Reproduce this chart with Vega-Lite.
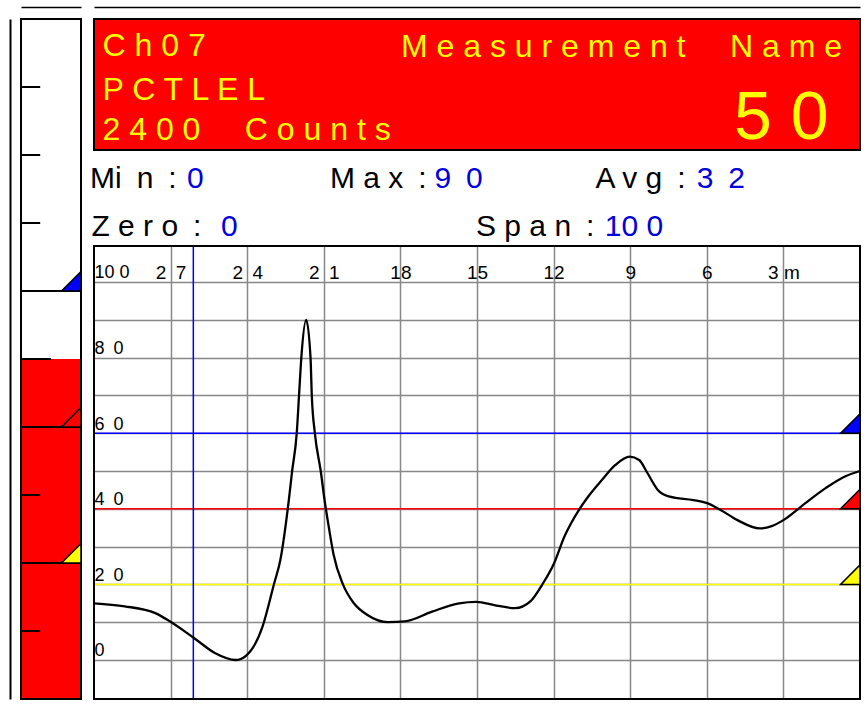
{
  "$schema": "https://vega.github.io/schema/vega-lite/v6.json",
  "background": "white",
  "padding": {"left": 10, "top": 6, "right": 0, "bottom": 0},
  "config": {"font": "Liberation Sans", "view": {"stroke": null}},
  "datasets": {
    "curve": [
      {"min": 30, "value": 15.0}, {"min": 28.8, "value": 14.2}, {"min": 27.6, "value": 12.4},
      {"min": 27.05, "value": 10.3}, {"min": 26.1, "value": 5.9}, {"min": 25.25, "value": 1.8},
      {"min": 24.45, "value": 0}, {"min": 24.05, "value": 1.1}, {"min": 23.4, "value": 8.8},
      {"min": 22.95, "value": 20.1}, {"min": 22.7, "value": 26.5}, {"min": 22.37, "value": 42.3},
      {"min": 22.24, "value": 50}, {"min": 22.06, "value": 60}, {"min": 21.97, "value": 70},
      {"min": 21.88, "value": 80}, {"min": 21.69, "value": 90}, {"min": 21.52, "value": 80},
      {"min": 21.47, "value": 70}, {"min": 21.35, "value": 60}, {"min": 21.12, "value": 50},
      {"min": 20.97, "value": 42.3}, {"min": 20.8, "value": 35}, {"min": 20.62, "value": 28},
      {"min": 20.25, "value": 20}, {"min": 19.82, "value": 15.0}, {"min": 19.29, "value": 11.9},
      {"min": 18.49, "value": 10.0}, {"min": 17.83, "value": 10.2}, {"min": 16.76, "value": 12.8},
      {"min": 15.7, "value": 15.0}, {"min": 15.03, "value": 15.4}, {"min": 14.24, "value": 14.4},
      {"min": 13.51, "value": 13.7}, {"min": 12.91, "value": 15.5}, {"min": 12.44, "value": 20},
      {"min": 11.98, "value": 25.6}, {"min": 11.58, "value": 32.6}, {"min": 10.98, "value": 40},
      {"min": 10.65, "value": 43.2}, {"min": 10.11, "value": 47.6}, {"min": 9.58, "value": 51.6},
      {"min": 9.02, "value": 53.8}, {"min": 8.65, "value": 52.9}, {"min": 8.32, "value": 49.4},
      {"min": 7.92, "value": 45.0}, {"min": 7.45, "value": 43.2}, {"min": 6.52, "value": 42.3},
      {"min": 5.99, "value": 41.5}, {"min": 5.46, "value": 39.7}, {"min": 4.8, "value": 37.0},
      {"min": 3.93, "value": 34.8}, {"min": 3.46, "value": 35.4}, {"min": 3.0, "value": 37.0},
      {"min": 2.14, "value": 41.5}, {"min": 1.36, "value": 45.4}, {"min": 0.67, "value": 48.3},
      {"min": 0, "value": 50}
    ],
    "alarms": [
      {"alarm": "Alarm 1", "level": 20},
      {"alarm": "Alarm 2", "level": 40},
      {"alarm": "Alarm 3", "level": 60}
    ],
    "current": [{"value": 50}],
    "gaugeTicks": [{"tick": 10}, {"tick": 30}, {"tick": 70}, {"tick": 80}, {"tick": 90}],
    "one": [{"frame": 1}]
  },
  "spacing": 13,
  "bounds": "flush",
  "hconcat": [
    {
      "width": 60,
      "height": 680,
      "view": {"fill": "white", "stroke": null},
      "layer": [
        {
          "data": {"name": "current"},
          "mark": {"type": "rect", "color": "#ff0000"},
          "encoding": {
            "x": {"datum": 0, "type": "quantitative", "scale": {"domain": [0, 1]},
                  "axis": {"orient": "top", "offset": 12, "domain": true, "domainColor": "black", "domainWidth": 1.5, "labels": false, "ticks": false, "grid": false, "title": null}},
            "x2": {"datum": 1},
            "y": {"field": "value", "type": "quantitative", "scale": {"domain": [0, 100]},
                  "axis": {"orient": "left", "offset": 11, "domain": true, "domainColor": "black", "domainWidth": 2, "labels": false, "ticks": false, "grid": false, "title": null}},
            "y2": {"datum": 0}
          }
        },
        {
          "data": {"name": "gaugeTicks"},
          "mark": {"type": "rule", "color": "black", "strokeWidth": 2},
          "encoding": {
            "x": {"datum": 0, "type": "quantitative", "scale": {"domain": [0, 1]},
                  "axis": {"orient": "top", "offset": 12, "domain": true, "domainColor": "black", "domainWidth": 1.5, "labels": false, "ticks": false, "grid": false, "title": null}},
            "x2": {"datum": 0.32},
            "y": {"field": "tick", "type": "quantitative", "scale": {"domain": [0, 100]},
                  "axis": {"orient": "left", "offset": 11, "domain": true, "domainColor": "black", "domainWidth": 2, "labels": false, "ticks": false, "grid": false, "title": null}}
          }
        },
        {
          "data": {"name": "current"},
          "mark": {"type": "rule", "color": "black", "strokeWidth": 2},
          "encoding": {
            "x": {"datum": 0, "type": "quantitative", "scale": {"domain": [0, 1]},
                  "axis": {"orient": "top", "offset": 12, "domain": true, "domainColor": "black", "domainWidth": 1.5, "labels": false, "ticks": false, "grid": false, "title": null}},
            "x2": {"datum": 0.5},
            "y": {"field": "value", "type": "quantitative", "scale": {"domain": [0, 100]},
                  "axis": {"orient": "left", "offset": 11, "domain": true, "domainColor": "black", "domainWidth": 2, "labels": false, "ticks": false, "grid": false, "title": null}}
          }
        },
        {
          "data": {"name": "alarms"},
          "mark": {"type": "rule", "color": "black", "strokeWidth": 2},
          "encoding": {
            "x": {"datum": 0, "type": "quantitative", "scale": {"domain": [0, 1]},
                  "axis": {"orient": "top", "offset": 12, "domain": true, "domainColor": "black", "domainWidth": 1.5, "labels": false, "ticks": false, "grid": false, "title": null}},
            "x2": {"datum": 1},
            "y": {"field": "level", "type": "quantitative", "scale": {"domain": [0, 100]},
                  "axis": {"orient": "left", "offset": 11, "domain": true, "domainColor": "black", "domainWidth": 2, "labels": false, "ticks": false, "grid": false, "title": null}}
          }
        },
        {
          "data": {"name": "one"},
          "mark": {"type": "rect", "filled": false, "stroke": "black", "strokeWidth": 2},
          "encoding": {
            "x": {"datum": 0, "type": "quantitative", "scale": {"domain": [0, 1]},
                  "axis": {"orient": "top", "offset": 12, "domain": true, "domainColor": "black", "domainWidth": 1.5, "labels": false, "ticks": false, "grid": false, "title": null}},
            "x2": {"datum": 1},
            "y": {"datum": 0, "type": "quantitative", "scale": {"domain": [0, 100]},
                  "axis": {"orient": "left", "offset": 11, "domain": true, "domainColor": "black", "domainWidth": 2, "labels": false, "ticks": false, "grid": false, "title": null}},
            "y2": {"datum": 100}
          }
        },
        {
          "data": {"name": "alarms"},
          "mark": {"type": "point", "shape": "M0 0 L-2 0 L0 -2 Z", "size": 380, "filled": true, "opacity": 1, "stroke": "black", "strokeWidth": 1.5},
          "encoding": {
            "x": {"datum": 1, "type": "quantitative", "scale": {"domain": [0, 1]},
                  "axis": {"orient": "top", "offset": 12, "domain": true, "domainColor": "black", "domainWidth": 1.5, "labels": false, "ticks": false, "grid": false, "title": null}},
            "y": {"field": "level", "type": "quantitative", "scale": {"domain": [0, 100]},
                  "axis": {"orient": "left", "offset": 11, "domain": true, "domainColor": "black", "domainWidth": 2, "labels": false, "ticks": false, "grid": false, "title": null}},
            "color": {"field": "alarm", "type": "nominal", "scale": {"domain": ["Alarm 1", "Alarm 2", "Alarm 3"], "range": ["#ffff00", "#ff0000", "#0000ff"]}, "legend": null}
          }
        }
      ]
    },
    {
      "spacing": 0,
      "bounds": "flush",
      "vconcat": [
        {
          "width": 766,
          "height": 131,
          "view": {"fill": "#ff0000", "stroke": "black", "strokeWidth": 2},
          "data": {"name": "one"},
          "layer": [
            {
              "mark": {"type": "text", "text": "C h 0 7", "align": "left", "baseline": "alphabetic", "fontSize": 32, "color": "#ffff00", "font": "Liberation Sans"},
              "encoding": {
                "x": {"datum": 1.11, "type": "quantitative", "scale": {"domain": [0, 100]},
                      "axis": {"orient": "top", "offset": 12, "domain": true, "domainColor": "black", "domainWidth": 1.5, "labels": false, "ticks": false, "grid": false, "title": null}},
                "y": {"datum": 28.6, "type": "quantitative", "scale": {"domain": [0, 100], "reverse": true}, "axis": null}
              }
            },
            {
              "mark": {"type": "text", "text": "P C T L E L", "align": "left", "baseline": "alphabetic", "fontSize": 32, "color": "#ffff00", "font": "Liberation Sans"},
              "encoding": {
                "x": {"datum": 1.11, "type": "quantitative", "scale": {"domain": [0, 100]},
                      "axis": {"orient": "top", "offset": 12, "domain": true, "domainColor": "black", "domainWidth": 1.5, "labels": false, "ticks": false, "grid": false, "title": null}},
                "y": {"datum": 61.8, "type": "quantitative", "scale": {"domain": [0, 100], "reverse": true}, "axis": null}
              }
            },
            {
              "mark": {"type": "text", "text": "2 4 0 0\u00a0\u00a0\u00a0\u00a0\u00a0C o u n t s", "align": "left", "baseline": "alphabetic", "fontSize": 32, "color": "#ffff00", "font": "Liberation Sans"},
              "encoding": {
                "x": {"datum": 1.11, "type": "quantitative", "scale": {"domain": [0, 100]},
                      "axis": {"orient": "top", "offset": 12, "domain": true, "domainColor": "black", "domainWidth": 1.5, "labels": false, "ticks": false, "grid": false, "title": null}},
                "y": {"datum": 92.7, "type": "quantitative", "scale": {"domain": [0, 100], "reverse": true}, "axis": null}
              }
            },
            {
              "mark": {"type": "text", "text": "M e a s u r e m e n t\u00a0\u00a0\u00a0\u00a0\u00a0N a m e", "align": "right", "baseline": "alphabetic", "fontSize": 32, "color": "#ffff00", "font": "Liberation Sans"},
              "encoding": {
                "x": {"datum": 97.65, "type": "quantitative", "scale": {"domain": [0, 100]},
                      "axis": {"orient": "top", "offset": 12, "domain": true, "domainColor": "black", "domainWidth": 1.5, "labels": false, "ticks": false, "grid": false, "title": null}},
                "y": {"datum": 29.0, "type": "quantitative", "scale": {"domain": [0, 100], "reverse": true}, "axis": null}
              }
            },
            {
              "mark": {"type": "text", "text": "5 0", "align": "right", "baseline": "alphabetic", "fontSize": 68, "color": "#ffff00", "font": "Liberation Sans"},
              "encoding": {
                "x": {"datum": 95.89, "type": "quantitative", "scale": {"domain": [0, 100]},
                      "axis": {"orient": "top", "offset": 12, "domain": true, "domainColor": "black", "domainWidth": 1.5, "labels": false, "ticks": false, "grid": false, "title": null}},
                "y": {"datum": 91.6, "type": "quantitative", "scale": {"domain": [0, 100], "reverse": true}, "axis": null}
              }
            }
          ]
        },
        {
          "width": 766,
          "height": 96,
          "view": {"stroke": null},
          "data": {"name": "one"},
          "layer": [
            {
              "mark": {"type": "text", "text": "Mi\u2002n\u2002:", "align": "left", "baseline": "alphabetic", "fontSize": 30, "color": "black", "font": "Liberation Sans"},
              "encoding": {
                "x": {"datum": -0.52, "type": "quantitative", "scale": {"domain": [0, 100]}, "axis": null},
                "y": {"datum": 39.9, "type": "quantitative", "scale": {"domain": [0, 100], "reverse": true}, "axis": null}
              }
            },
            {
              "mark": {"type": "text", "text": "0", "align": "left", "baseline": "alphabetic", "fontSize": 30, "color": "#0000dd", "font": "Liberation Sans"},
              "encoding": {
                "x": {"datum": 12.14, "type": "quantitative", "scale": {"domain": [0, 100]}, "axis": null},
                "y": {"datum": 39.9, "type": "quantitative", "scale": {"domain": [0, 100], "reverse": true}, "axis": null}
              }
            },
            {
              "mark": {"type": "text", "text": "M a x\u2002:", "align": "left", "baseline": "alphabetic", "fontSize": 30, "color": "black", "font": "Liberation Sans"},
              "encoding": {
                "x": {"datum": 30.81, "type": "quantitative", "scale": {"domain": [0, 100]}, "axis": null},
                "y": {"datum": 39.9, "type": "quantitative", "scale": {"domain": [0, 100], "reverse": true}, "axis": null}
              }
            },
            {
              "mark": {"type": "text", "text": "9\u20020", "align": "left", "baseline": "alphabetic", "fontSize": 30, "color": "#0000dd", "font": "Liberation Sans"},
              "encoding": {
                "x": {"datum": 44.44, "type": "quantitative", "scale": {"domain": [0, 100]}, "axis": null},
                "y": {"datum": 39.9, "type": "quantitative", "scale": {"domain": [0, 100], "reverse": true}, "axis": null}
              }
            },
            {
              "mark": {"type": "text", "text": "A v g\u2002:", "align": "left", "baseline": "alphabetic", "fontSize": 30, "color": "black", "font": "Liberation Sans"},
              "encoding": {
                "x": {"datum": 65.47, "type": "quantitative", "scale": {"domain": [0, 100]}, "axis": null},
                "y": {"datum": 39.9, "type": "quantitative", "scale": {"domain": [0, 100], "reverse": true}, "axis": null}
              }
            },
            {
              "mark": {"type": "text", "text": "3\u20022", "align": "left", "baseline": "alphabetic", "fontSize": 30, "color": "#0000dd", "font": "Liberation Sans"},
              "encoding": {
                "x": {"datum": 78.68, "type": "quantitative", "scale": {"domain": [0, 100]}, "axis": null},
                "y": {"datum": 39.9, "type": "quantitative", "scale": {"domain": [0, 100], "reverse": true}, "axis": null}
              }
            },
            {
              "mark": {"type": "text", "text": "Z e r o\u2002:", "align": "left", "baseline": "alphabetic", "fontSize": 30, "color": "black", "font": "Liberation Sans"},
              "encoding": {
                "x": {"datum": -0.34, "type": "quantitative", "scale": {"domain": [0, 100]}, "axis": null},
                "y": {"datum": 89.1, "type": "quantitative", "scale": {"domain": [0, 100], "reverse": true}, "axis": null}
              }
            },
            {
              "mark": {"type": "text", "text": "0", "align": "left", "baseline": "alphabetic", "fontSize": 30, "color": "#0000dd", "font": "Liberation Sans"},
              "encoding": {
                "x": {"datum": 16.58, "type": "quantitative", "scale": {"domain": [0, 100]}, "axis": null},
                "y": {"datum": 89.1, "type": "quantitative", "scale": {"domain": [0, 100], "reverse": true}, "axis": null}
              }
            },
            {
              "mark": {"type": "text", "text": "S p a n\u2002:", "align": "left", "baseline": "alphabetic", "fontSize": 30, "color": "black", "font": "Liberation Sans"},
              "encoding": {
                "x": {"datum": 49.87, "type": "quantitative", "scale": {"domain": [0, 100]}, "axis": null},
                "y": {"datum": 89.1, "type": "quantitative", "scale": {"domain": [0, 100], "reverse": true}, "axis": null}
              }
            },
            {
              "mark": {"type": "text", "text": "10 0", "align": "left", "baseline": "alphabetic", "fontSize": 30, "color": "#0000dd", "font": "Liberation Sans"},
              "encoding": {
                "x": {"datum": 66.67, "type": "quantitative", "scale": {"domain": [0, 100]}, "axis": null},
                "y": {"datum": 89.1, "type": "quantitative", "scale": {"domain": [0, 100], "reverse": true}, "axis": null}
              }
            }
          ]
        },
        {
          "width": 766,
          "height": 453,
          "view": {"fill": "white", "stroke": null},
          "layer": [
            {
              "data": {"name": "alarms"},
              "mark": {"type": "rule", "strokeWidth": 1.5},
              "encoding": {
                "y": {"field": "level", "type": "quantitative", "scale": {"domain": [-10.32, 109.52]},
                      "axis": {"orient": "left", "values": [0, 10, 20, 30, 40, 50, 60, 70, 80, 90, 100], "grid": true, "gridColor": "#888888", "gridWidth": 1.5, "gridOpacity": 1, "domain": false, "ticks": false, "tickSize": 0, "labelPadding": 0, "labelAlign": "left", "labelBaseline": "alphabetic", "labelOffset": -4, "labelFontSize": 18, "labelColor": "black", "labelFont": "Liberation Sans", "labelFlush": false, "labelOverlap": false, "labelExpr": "datum.value == 100 ? '10 0' : datum.value == 80 ? '8\u20020' : datum.value == 60 ? '6\u20020' : datum.value == 40 ? '4\u20020' : datum.value == 20 ? '2\u20020' : datum.value == 0 ? '0' : ''", "title": null}},
                "color": {"field": "alarm", "type": "nominal", "scale": {"domain": ["Alarm 1", "Alarm 2", "Alarm 3"], "range": ["#ffff00", "#ff0000", "#0000ff"]}, "legend": null}
              }
            },
            {
              "data": {"name": "one"},
              "mark": {"type": "rule", "color": "#0000ff", "strokeWidth": 1.5},
              "encoding": {
                "x": {"datum": 26.11, "type": "quantitative", "scale": {"domain": [0, 30], "reverse": true},
                      "axis": {"orient": "top", "values": [3, 6, 9, 12, 15, 18, 21, 24, 27], "grid": true, "gridColor": "#888888", "gridWidth": 1.5, "gridOpacity": 1, "domain": false, "ticks": false, "tickSize": 0, "labelPadding": -32, "labelBaseline": "alphabetic", "labelAlign": "center", "labelAngle": 0, "labelFontSize": 19, "labelColor": "black", "labelFont": "Liberation Sans", "labelFlush": false, "labelOverlap": false, "labelExpr": "datum.value == 27 ? '2\u20027' : datum.value == 24 ? '2\u20024' : datum.value == 21 ? '2\u20021' : datum.value == 3 ? '3 m' : datum.label", "title": null}}
              }
            },
            {
              "data": {"name": "curve"},
              "mark": {"type": "line", "color": "black", "strokeWidth": 2.3, "interpolate": "monotone"},
              "encoding": {
                "x": {"field": "min", "type": "quantitative", "scale": {"domain": [0, 30], "reverse": true},
                      "axis": {"orient": "top", "values": [3, 6, 9, 12, 15, 18, 21, 24, 27], "grid": true, "gridColor": "#888888", "gridWidth": 1.5, "gridOpacity": 1, "domain": false, "ticks": false, "tickSize": 0, "labelPadding": -32, "labelBaseline": "alphabetic", "labelAlign": "center", "labelAngle": 0, "labelFontSize": 19, "labelColor": "black", "labelFont": "Liberation Sans", "labelFlush": false, "labelOverlap": false, "labelExpr": "datum.value == 27 ? '2\u20027' : datum.value == 24 ? '2\u20024' : datum.value == 21 ? '2\u20021' : datum.value == 3 ? '3 m' : datum.label", "title": null}},
                "y": {"field": "value", "type": "quantitative", "scale": {"domain": [-10.32, 109.52]},
                      "axis": {"orient": "left", "values": [0, 10, 20, 30, 40, 50, 60, 70, 80, 90, 100], "grid": true, "gridColor": "#888888", "gridWidth": 1.5, "gridOpacity": 1, "domain": false, "ticks": false, "tickSize": 0, "labelPadding": 0, "labelAlign": "left", "labelBaseline": "alphabetic", "labelOffset": -4, "labelFontSize": 18, "labelColor": "black", "labelFont": "Liberation Sans", "labelFlush": false, "labelOverlap": false, "labelExpr": "datum.value == 100 ? '10 0' : datum.value == 80 ? '8\u20020' : datum.value == 60 ? '6\u20020' : datum.value == 40 ? '4\u20020' : datum.value == 20 ? '2\u20020' : datum.value == 0 ? '0' : ''", "title": null}}
              }
            },
            {
              "data": {"name": "one"},
              "mark": {"type": "rect", "filled": false, "stroke": "black", "strokeWidth": 2},
              "encoding": {
                "x": {"datum": 0, "type": "quantitative", "scale": {"domain": [0, 30], "reverse": true},
                      "axis": {"orient": "top", "values": [3, 6, 9, 12, 15, 18, 21, 24, 27], "grid": true, "gridColor": "#888888", "gridWidth": 1.5, "gridOpacity": 1, "domain": false, "ticks": false, "tickSize": 0, "labelPadding": -32, "labelBaseline": "alphabetic", "labelAlign": "center", "labelAngle": 0, "labelFontSize": 19, "labelColor": "black", "labelFont": "Liberation Sans", "labelFlush": false, "labelOverlap": false, "labelExpr": "datum.value == 27 ? '2\u20027' : datum.value == 24 ? '2\u20024' : datum.value == 21 ? '2\u20021' : datum.value == 3 ? '3 m' : datum.label", "title": null}},
                "x2": {"datum": 30},
                "y": {"datum": -10.32, "type": "quantitative", "scale": {"domain": [-10.32, 109.52]},
                      "axis": {"orient": "left", "values": [0, 10, 20, 30, 40, 50, 60, 70, 80, 90, 100], "grid": true, "gridColor": "#888888", "gridWidth": 1.5, "gridOpacity": 1, "domain": false, "ticks": false, "tickSize": 0, "labelPadding": 0, "labelAlign": "left", "labelBaseline": "alphabetic", "labelOffset": -4, "labelFontSize": 18, "labelColor": "black", "labelFont": "Liberation Sans", "labelFlush": false, "labelOverlap": false, "labelExpr": "datum.value == 100 ? '10 0' : datum.value == 80 ? '8\u20020' : datum.value == 60 ? '6\u20020' : datum.value == 40 ? '4\u20020' : datum.value == 20 ? '2\u20020' : datum.value == 0 ? '0' : ''", "title": null}},
                "y2": {"datum": 109.52}
              }
            },
            {
              "data": {"name": "alarms"},
              "mark": {"type": "point", "shape": "M0 0 L-2 0 L0 -2 Z", "size": 380, "filled": true, "opacity": 1, "stroke": "black", "strokeWidth": 1.5},
              "encoding": {
                "x": {"datum": 0, "type": "quantitative", "scale": {"domain": [0, 30], "reverse": true},
                      "axis": {"orient": "top", "values": [3, 6, 9, 12, 15, 18, 21, 24, 27], "grid": true, "gridColor": "#888888", "gridWidth": 1.5, "gridOpacity": 1, "domain": false, "ticks": false, "tickSize": 0, "labelPadding": -32, "labelBaseline": "alphabetic", "labelAlign": "center", "labelAngle": 0, "labelFontSize": 19, "labelColor": "black", "labelFont": "Liberation Sans", "labelFlush": false, "labelOverlap": false, "labelExpr": "datum.value == 27 ? '2\u20027' : datum.value == 24 ? '2\u20024' : datum.value == 21 ? '2\u20021' : datum.value == 3 ? '3 m' : datum.label", "title": null}},
                "y": {"field": "level", "type": "quantitative", "scale": {"domain": [-10.32, 109.52]},
                      "axis": {"orient": "left", "values": [0, 10, 20, 30, 40, 50, 60, 70, 80, 90, 100], "grid": true, "gridColor": "#888888", "gridWidth": 1.5, "gridOpacity": 1, "domain": false, "ticks": false, "tickSize": 0, "labelPadding": 0, "labelAlign": "left", "labelBaseline": "alphabetic", "labelOffset": -4, "labelFontSize": 18, "labelColor": "black", "labelFont": "Liberation Sans", "labelFlush": false, "labelOverlap": false, "labelExpr": "datum.value == 100 ? '10 0' : datum.value == 80 ? '8\u20020' : datum.value == 60 ? '6\u20020' : datum.value == 40 ? '4\u20020' : datum.value == 20 ? '2\u20020' : datum.value == 0 ? '0' : ''", "title": null}},
                "color": {"field": "alarm", "type": "nominal", "scale": {"domain": ["Alarm 1", "Alarm 2", "Alarm 3"], "range": ["#ffff00", "#ff0000", "#0000ff"]}, "legend": null}
              }
            }
          ]
        }
      ]
    }
  ]
}
